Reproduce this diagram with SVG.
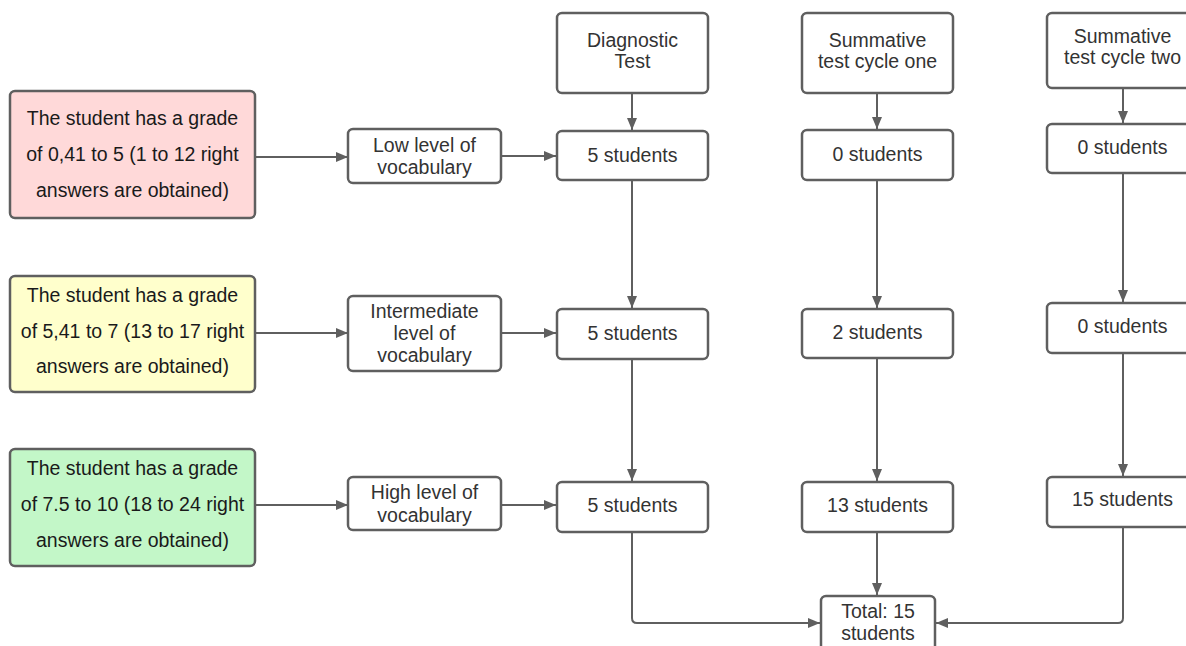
<svg xmlns="http://www.w3.org/2000/svg" width="1186" height="646" viewBox="0 0 1186 646">
<style>
.box{fill:#fff;stroke:#5f5f5f;stroke-width:2.5}
.t{font-family:"Liberation Sans",Arial,sans-serif;font-size:19.5px;fill:#333;text-anchor:middle}
.tl{font-family:"Liberation Sans",Arial,sans-serif;font-size:19.5px;fill:#1a1a1a;text-anchor:middle}
.c{fill:none;stroke:#5f5f5f;stroke-width:2}
</style>
<defs>
<marker id="ah" viewBox="0 0 12 10" refX="12" refY="5" markerWidth="12" markerHeight="10" markerUnits="userSpaceOnUse" orient="auto">
<path d="M0,0 L12,5 L0,10 Z" fill="#5f5f5f"/>
</marker>
</defs>
<rect width="1186" height="646" fill="#fff"/>
<g id="connectors">
<path class="c" d="M255,157 H348" marker-end="url(#ah)"/>
<path class="c" d="M255,333 H348" marker-end="url(#ah)"/>
<path class="c" d="M255,505 H348" marker-end="url(#ah)"/>
<path class="c" d="M501,156 H556" marker-end="url(#ah)"/>
<path class="c" d="M501,333 H556" marker-end="url(#ah)"/>
<path class="c" d="M501,505 H556" marker-end="url(#ah)"/>
<path class="c" d="M632,93 V130" marker-end="url(#ah)"/>
<path class="c" d="M632,180 V308" marker-end="url(#ah)"/>
<path class="c" d="M632,359 V481" marker-end="url(#ah)"/>
<path class="c" d="M877,93 V129" marker-end="url(#ah)"/>
<path class="c" d="M877,180 V308" marker-end="url(#ah)"/>
<path class="c" d="M877,358 V481" marker-end="url(#ah)"/>
<path class="c" d="M1123,88 V123" marker-end="url(#ah)"/>
<path class="c" d="M1123,173 V302" marker-end="url(#ah)"/>
<path class="c" d="M1123,353 V476" marker-end="url(#ah)"/>
<path class="c" d="M877,532 V595" marker-end="url(#ah)"/>
<path class="c" d="M632,532 V618 Q632,623 637,623 H820" marker-end="url(#ah)"/>
<path class="c" d="M1123,527 V618 Q1123,623 1118,623 H936" marker-end="url(#ah)"/>
</g>
<g id="grade-low">
<rect x="10" y="91" width="245" height="127" rx="5" class="box" style="fill:#ffd9d9"/>
<text class="tl" x="132.5" y="125">The student has a grade</text>
<text class="tl" x="132.5" y="161">of 0,41 to 5 (1 to 12 right</text>
<text class="tl" x="132.5" y="197">answers are obtained)</text>
</g>
<g id="grade-mid">
<rect x="10" y="276" width="245" height="116" rx="5" class="box" style="fill:#ffffcc"/>
<text class="tl" x="132.5" y="302">The student has a grade</text>
<text class="tl" x="132.5" y="338">of 5,41 to 7 (13 to 17 right</text>
<text class="tl" x="132.5" y="373">answers are obtained)</text>
</g>
<g id="grade-high">
<rect x="10" y="449" width="245" height="117" rx="5" class="box" style="fill:#c3f7c8"/>
<text class="tl" x="132.5" y="475">The student has a grade</text>
<text class="tl" x="132.5" y="511">of 7.5 to 10 (18 to 24 right</text>
<text class="tl" x="132.5" y="547">answers are obtained)</text>
</g>
<g id="level-low">
<rect x="348" y="129" width="153" height="54" rx="5" class="box"/>
<text class="t" x="424.5" y="152">Low level of</text>
<text class="t" x="424.5" y="174">vocabulary</text>
</g>
<g id="level-mid">
<rect x="348" y="296" width="153" height="75" rx="5" class="box"/>
<text class="t" x="424.5" y="318">Intermediate</text>
<text class="t" x="424.5" y="340">level of</text>
<text class="t" x="424.5" y="362">vocabulary</text>
</g>
<g id="level-high">
<rect x="348" y="477" width="153" height="53" rx="5" class="box"/>
<text class="t" x="424.5" y="499">High level of</text>
<text class="t" x="424.5" y="522">vocabulary</text>
</g>
<g id="diagnostic">
<rect x="557" y="13" width="151" height="80" rx="5" class="box"/>
<text class="t" x="632.5" y="47">Diagnostic</text>
<text class="t" x="632.5" y="68">Test</text>
</g>
<g id="diag-low">
<rect x="557" y="131" width="151" height="49" rx="5" class="box"/>
<text class="t" x="632.5" y="162">5 students</text>
</g>
<g id="diag-mid">
<rect x="557" y="309" width="151" height="50" rx="5" class="box"/>
<text class="t" x="632.5" y="340">5 students</text>
</g>
<g id="diag-high">
<rect x="557" y="482" width="151" height="50" rx="5" class="box"/>
<text class="t" x="632.5" y="512">5 students</text>
</g>
<g id="sum1">
<rect x="802" y="13" width="151" height="80" rx="5" class="box"/>
<text class="t" x="877.5" y="47">Summative</text>
<text class="t" x="877.5" y="68">test cycle one</text>
</g>
<g id="sum1-low">
<rect x="802" y="130" width="151" height="50" rx="5" class="box"/>
<text class="t" x="877.5" y="161">0 students</text>
</g>
<g id="sum1-mid">
<rect x="802" y="309" width="151" height="49" rx="5" class="box"/>
<text class="t" x="877.5" y="339">2 students</text>
</g>
<g id="sum1-high">
<rect x="802" y="482" width="151" height="50" rx="5" class="box"/>
<text class="t" x="877.5" y="512">13 students</text>
</g>
<g id="sum2">
<rect x="1047" y="13" width="151" height="75" rx="5" class="box"/>
<text class="t" x="1122.5" y="43">Summative</text>
<text class="t" x="1122.5" y="64">test cycle two</text>
</g>
<g id="sum2-low">
<rect x="1047" y="124" width="151" height="49" rx="5" class="box"/>
<text class="t" x="1122.5" y="154">0 students</text>
</g>
<g id="sum2-mid">
<rect x="1047" y="303" width="151" height="50" rx="5" class="box"/>
<text class="t" x="1122.5" y="333">0 students</text>
</g>
<g id="sum2-high">
<rect x="1047" y="477" width="151" height="50" rx="5" class="box"/>
<text class="t" x="1122.5" y="506">15 students</text>
</g>
<g id="total">
<rect x="821" y="596" width="114" height="60" rx="5" class="box"/>
<text class="t" x="878" y="618">Total: 15</text>
<text class="t" x="878" y="640">students</text>
</g>
</svg>
